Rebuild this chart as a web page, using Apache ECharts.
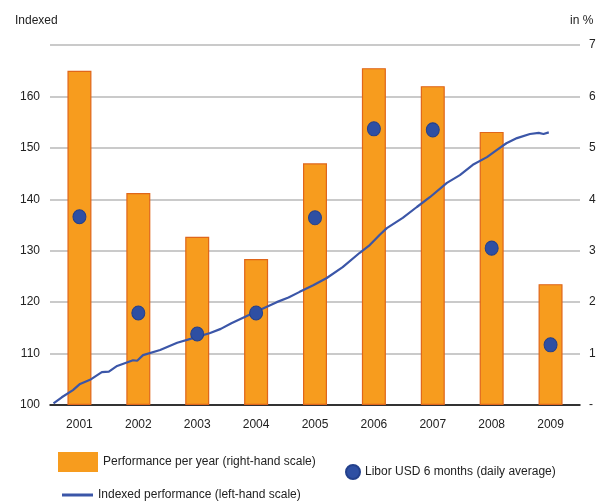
<!DOCTYPE html>
<html>
<head>
<meta charset="utf-8">
<script src="https://cdn.jsdelivr.net/npm/echarts@6/dist/echarts.min.js"></script>
<style>html,body{margin:0;padding:0;background:#fff}#c{width:604px;height:503px}</style>
</head>
<body>
<div id="c"></div>
<script>
// years on the x axis
const years = ['2001','2002','2003','2004','2005','2006','2007','2008','2009']
// performance per year, in % (right-hand scale)
const perfPerYear = [6.5, 4.12, 3.27, 2.84, 4.7, 6.55, 6.2, 5.31, 2.35]
// Libor USD 6 months, daily average, in %
const libor = [3.66, 1.79, 1.38, 1.79, 3.64, 5.37, 5.35, 3.05, 1.17]
// indexed performance: [position in years from start, index value]
const indexed = [
  [0.06,100.3],[0.2,101.5],[0.39,102.9],[0.51,104.1],[0.68,104.9],[0.88,106.4],
  [1.0,106.5],[1.14,107.6],[1.41,108.7],[1.48,108.6],[1.58,109.7],[1.87,110.7],
  [2.16,112.1],[2.43,113.0],[2.72,114.0],[2.9,114.8],[3.08,115.9],[3.45,117.9],
  [3.85,120.0],[4.05,120.9],[4.24,122.0],[4.47,123.3],[4.7,124.7],[4.97,126.8],
  [5.26,129.6],[5.43,131.1],[5.6,133.1],[5.72,134.4],[5.99,136.4],[6.23,138.5],
  [6.45,140.4],[6.74,143.2],[6.96,144.7],[7.18,146.7],[7.42,148.2],[7.59,149.6],
  [7.75,150.9],[7.93,151.9],[8.15,152.7],[8.3,152.9],[8.38,152.7],[8.47,153.0]
]

const chart = echarts.init(document.getElementById('c'))
const font = 'Liberation Sans, Arial, sans-serif'
chart.setOption({
  animation: false,
  textStyle: { fontFamily: font },
  grid: { left: 50, right: 24, top: 45, bottom: 98 },
  graphic: [
    { type: 'text', left: 15, top: 15, style: { text: 'Indexed', font: '12px ' + font, fill: '#222' } },
    { type: 'text', left: 570, top: 15, style: { text: 'in %', font: '12px ' + font, fill: '#222' } }
  ],
  legend: [
    { data: [{ name: 'Performance per year (right-hand scale)', icon: 'rect' }], left: 58, top: 452, padding: 0,
      itemWidth: 40, itemHeight: 20, textStyle: { fontSize: 12, color: '#222', padding: [10, 0, 0, 0] },
      itemStyle: { borderWidth: 0 } },
    { data: [{ name: 'Libor USD 6 months (daily average)', icon: 'circle' }], left: 345, top: 464, padding: 0,
      itemWidth: 14, itemHeight: 15, textStyle: { fontSize: 12, color: '#222' } },
    { data: [{ name: 'Indexed performance (left-hand scale)', icon: 'rect' }], left: 62, top: 489, padding: 0,
      itemWidth: 31, itemHeight: 3, textStyle: { fontSize: 12, color: '#222' } }
  ],
  xAxis: [
    { type: 'category', data: years, axisTick: { show: false },
      axisLine: { lineStyle: { color: '#000', width: 1.5 } },
      axisLabel: { color: '#222', fontSize: 12, margin: 14 } },
    { type: 'value', min: 0, max: 9, show: false }
  ],
  yAxis: [
    { type: 'value', min: 100, max: 170, interval: 10,
      axisLine: { show: false }, axisTick: { show: false },
      axisLabel: { color: '#222', fontSize: 12, margin: 10, formatter: v => v === 170 ? '' : v },
      splitLine: { lineStyle: { color: '#b8b8b8', width: 1.5 } } },
    { type: 'value', min: 0, max: 7, interval: 1, position: 'right',
      axisLine: { show: false }, axisTick: { show: false },
      axisLabel: { color: '#222', fontSize: 12, margin: 9, formatter: v => v === 0 ? '-' : v },
      splitLine: { show: false } }
  ],
  series: [
    { name: 'Performance per year (right-hand scale)', type: 'bar', yAxisIndex: 1, data: perfPerYear, barWidth: 24,
      itemStyle: { color: '#f79c1e', borderColor: '#e0661a', borderWidth: 1.2 } },
    { name: 'Indexed performance (left-hand scale)', type: 'line', xAxisIndex: 1, yAxisIndex: 0, data: indexed,
      symbol: 'none', lineStyle: { color: '#3b56a8', width: 2.2 }, itemStyle: { color: '#3b56a8' }, z: 3 },
    { name: 'Libor USD 6 months (daily average)', type: 'scatter', yAxisIndex: 1, data: libor,
      symbol: 'circle', symbolSize: [13, 14],
      itemStyle: { color: '#2e4fa3', borderColor: '#23408c', borderWidth: 1, opacity: 1 }, z: 4 }
  ]
})
</script>
</body>
</html>
